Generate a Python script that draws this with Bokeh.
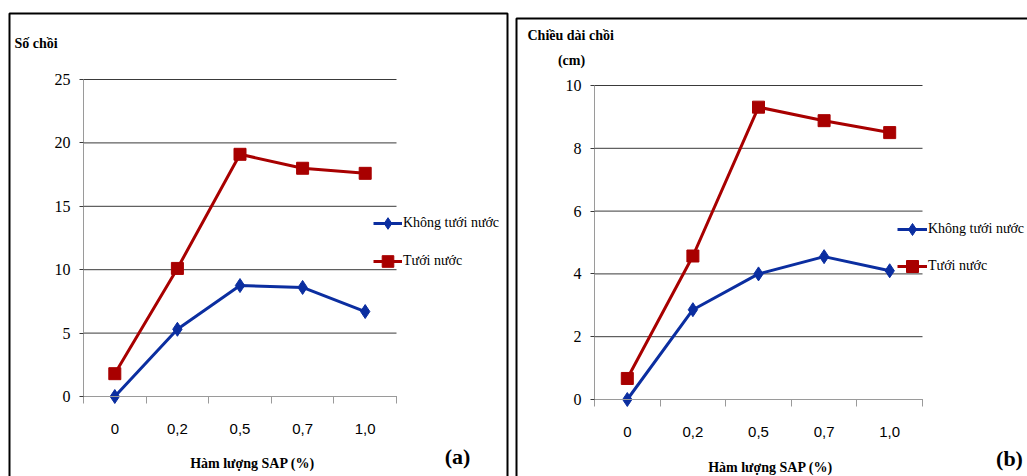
from bokeh.plotting import figure
from bokeh.models import (Range1d, LinearAxis, FixedTicker,
                          Legend, LegendItem, Label, BoxAnnotation)
from bokeh.layouts import row
from bokeh.embed import file_html
from bokeh.resources import INLINE

# ---------------- data ----------------
sap_levels = ["0", "0,2", "0,5", "0,7", "1,0"]
series_names = ["Không tưới nước", "Tưới nước"]
shoots_no_water = [0.0, 5.3, 8.75, 8.6, 6.7]
shoots_water = [1.8, 10.1, 19.1, 18.0, 17.6]
length_no_water = [0.0, 2.86, 4.0, 4.55, 4.1]
length_water = [0.67, 4.57, 9.31, 8.88, 8.5]
shoots_ticks = [0, 5, 10, 15, 20, 25]
length_ticks = [0, 2, 4, 6, 8, 10]
x_title = "Hàm lượng SAP (%)"

BLUE = "#0B2EA0"
RED = "#A80000"
SERIF = "Liberation Serif"
SANS = "Liberation Sans"

n = len(sap_levels)
x_pos = [i + 0.5 for i in range(n)]          # category centres
x_bounds = [float(i) for i in range(n + 1)]  # category boundaries


def make_panel(cfg):
    ox, oy = cfg["origin"]               # page position of canvas
    cw, ch = cfg["size"]                 # canvas size
    fl, ft, fw, fh = cfg["plot_area"]    # page plot-area left/top, width/height
    ymax = cfg["ymax"]

    def to_data(px, py):
        return (px - fl) / fw * n, (ft + fh - py) / fh * ymax

    x0, y1 = to_data(ox, oy)
    x1, y0 = to_data(ox + cw, oy + ch)
    p = figure(frame_width=cw, frame_height=ch, min_border=0,
               x_range=Range1d(x0, x1), y_range=Range1d(y0, y1),
               x_axis_location=None, y_axis_location=None,
               output_backend="svg", toolbar_location=None)
    p.outline_line_color = None
    p.background_fill_color = "white"
    p.border_fill_color = "white"
    p.xgrid.visible = False
    p.ygrid.visible = False

    # horizontal gridlines at the y ticks, across the plot area only
    yt = cfg["yticks"]
    p.segment(x0=[0] * len(yt), x1=[n] * len(yt), y0=yt, y1=yt,
              line_color="#3a3a3a", line_width=1)

    # y axis
    ya = LinearAxis(fixed_location=0, bounds=(0, ymax), ticker=FixedTicker(ticks=yt),
                    axis_line_color="#9a9a9a", major_tick_line_color="#3a3a3a",
                    major_tick_out=4, major_tick_in=0, minor_tick_line_color=None,
                    major_label_standoff=9, major_label_text_font=SERIF,
                    major_label_text_font_size="16px", major_label_text_color="black")
    p.add_layout(ya, "left")

    # x axis: tick marks between categories + category labels
    tick_axis = LinearAxis(fixed_location=0, bounds=(0, n),
                           ticker=FixedTicker(ticks=x_bounds),
                           major_label_overrides={b: "" for b in x_bounds},
                           major_tick_out=7, major_tick_in=0, axis_line_color="#9a9a9a",
                           major_tick_line_color="#9a9a9a", minor_tick_line_color=None)
    cat_axis = LinearAxis(fixed_location=0, ticker=FixedTicker(ticks=x_pos),
                          major_label_overrides={x: lab for x, lab in zip(x_pos, sap_levels)},
                          major_tick_line_color=None, minor_tick_line_color=None,
                          axis_line_color=None, major_tick_out=0,
                          major_label_standoff=cfg["xlabel_standoff"],
                          major_label_text_font=SANS,
                          major_label_text_font_size="15px",
                          major_label_text_color="black")
    p.add_layout(tick_axis, "below")
    p.add_layout(cat_axis, "below")

    # series
    lb = p.line(x=x_pos, y=cfg["blue"], line_color=BLUE, line_width=3)
    sb = p.scatter(x=x_pos, y=cfg["blue"], marker="diamond", size=14, color=BLUE)
    lr = p.line(x=x_pos, y=cfg["red"], line_color=RED, line_width=3)
    sr = p.scatter(x=x_pos, y=cfg["red"], marker="square", size=12, color=RED)

    lx, ly = cfg["legend_xy"]
    legend = Legend(items=[LegendItem(label=series_names[0], renderers=[lb, sb]),
                           LegendItem(label=series_names[1], renderers=[lr, sr])],
                    location=(lx - ox, oy + ch - ly), orientation="vertical",
                    glyph_width=cfg["glyph_w"], glyph_height=30, label_standoff=1,
                    spacing=cfg["legend_spacing"], padding=0, margin=0,
                    border_line_color=None, background_fill_alpha=0,
                    label_text_font=SERIF, label_text_font_size="14px",
                    label_text_color="black")
    p.add_layout(legend)

    # texts
    for txt, (px, py), align, size in cfg["texts"]:
        x, y = to_data(px, py)
        p.add_layout(Label(x=x, y=y, text=txt, text_font=SERIF, text_font_size=size,
                           text_font_style="bold", text_align=align,
                           text_baseline="middle", text_color="black"))

    # panel border
    bl, bt, br, bb = cfg["border"]
    bx0, by0 = to_data(bl, bt)
    bx1, by1 = to_data(br, bb)
    p.add_layout(BoxAnnotation(left=bx0, right=bx1, top=by0, bottom=by1,
                               fill_alpha=0, line_alpha=1,
                               line_color="black", line_width=2, level="overlay"))
    return p


cfg_a = dict(origin=(0, 0), size=(512, 476), plot_area=(83, 79, 313, 317),
             ymax=25, yticks=shoots_ticks, blue=shoots_no_water, red=shoots_water,
             xlabel_standoff=27, legend_xy=(373, 276), glyph_w=29, legend_spacing=8,
             texts=[("Số chồi", (14, 43), "left", "14px"),
                    (x_title, (252, 463), "center", "14px"),
                    ("(a)", (457, 456), "center", "22px")],
             border=(9, 13, 507, 520))
cfg_b = dict(origin=(512, 0), size=(515, 476), plot_area=(594, 85, 328, 314),
             ymax=10, yticks=length_ticks, blue=length_no_water, red=length_water,
             xlabel_standoff=27, legend_xy=(897, 281), glyph_w=30, legend_spacing=7,
             texts=[("Chiều dài chồi", (527, 35), "left", "14px"),
                    ("(cm)", (571, 60), "center", "14px"),
                    (x_title, (770, 467), "center", "14px"),
                    ("(b)", (1009, 458), "center", "22px")],
             border=(516, 18, 1060, 520))

pa = make_panel(cfg_a)
pb = make_panel(cfg_b)
layout = row(pa, pb)

open("out.html", "w").write(file_html(layout, INLINE))
